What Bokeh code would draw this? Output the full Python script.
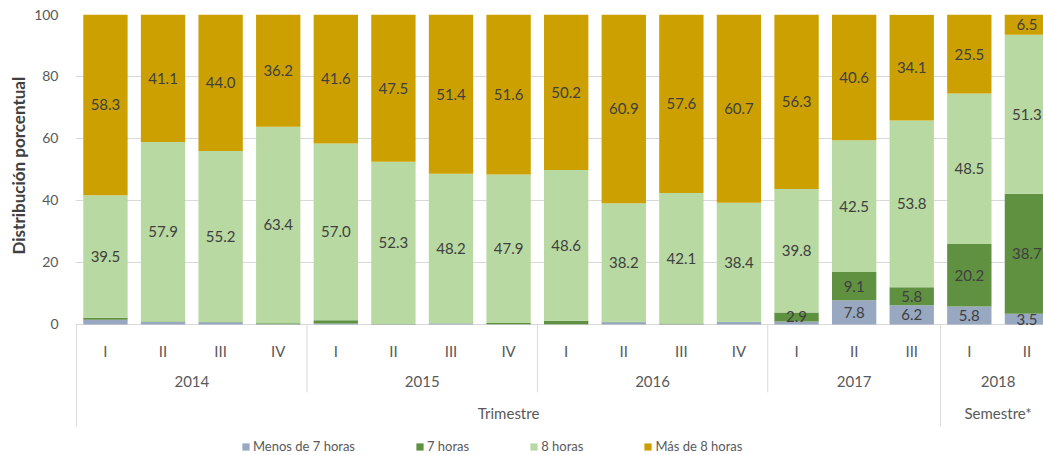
import numpy as np
from bokeh.plotting import figure
from bokeh.models import ColumnDataSource, Range1d, FixedTicker, Title
from bokeh.core.properties import value
from bokeh.embed import file_html
from bokeh.resources import INLINE

# ---------------- data ----------------
quarters = ["I", "II", "III", "IV", "I", "II", "III", "IV", "I", "II", "III", "IV",
            "I", "II", "III", "I", "II"]
years = ["2014"] * 4 + ["2015"] * 4 + ["2016"] * 4 + ["2017"] * 3 + ["2018"] * 2
periods = ["Trimestre"] * 15 + ["Semestre*"] * 2

series_names = ["Menos de 7 horas", "7 horas", "8 horas", "Más de 8 horas"]
menos7 = [1.5, 0.8, 0.7, 0.1, 0.3, 0.1, 0.3, 0.1, 0.1, 0.7, 0.1, 0.8, 1.0, 7.8, 6.2, 5.8, 3.5]
h7 = [0.7, 0.2, 0.1, 0.3, 1.1, 0.1, 0.1, 0.4, 1.1, 0.2, 0.2, 0.1, 2.9, 9.1, 5.8, 20.2, 38.7]
h8 = [39.5, 57.9, 55.2, 63.4, 57.0, 52.3, 48.2, 47.9, 48.6, 38.2, 42.1, 38.4, 39.8, 42.5, 53.8, 48.5, 51.3]
mas8 = [58.3, 41.1, 44.0, 36.2, 41.6, 47.5, 51.4, 51.6, 50.2, 60.9, 57.6, 60.7, 56.3, 40.6, 34.1, 25.5, 6.5]
y_ticks = [0, 20, 40, 60, 80, 100]
y_title = "Distribución porcentual"

colors = ["#97A8C0", "#5F9141", "#B8D9A2", "#CCA000"]
FONT = "Lato"
TXT = "#404040"
AX = "#595959"
GRID = "#D9D9D9"

n = len(quarters)
xs = list(range(n))
keys = ["menos7", "h7", "h8", "mas8"]
series = [menos7, h7, h8, mas8]
src = ColumnDataSource(dict(x=xs, menos7=menos7, h7=h7, h8=h8, mas8=mas8))

p = figure(width=1043, height=455,
           x_range=Range1d(-0.52, 16.288), y_range=Range1d(-42.26, 100),
           output_backend="svg", toolbar_location=None, x_axis_location=None,
           min_border_left=75, min_border_right=0, min_border_top=14, min_border_bottom=0)
p.outline_line_color = None
p.xgrid.visible = False
p.ygrid.ticker = FixedTicker(ticks=y_ticks)
p.ygrid.grid_line_color = GRID

p.vbar_stack(keys, x="x", width=0.77, fill_color=colors, line_color=None,
             source=src, legend_label=series_names)

# data labels
lx, ly, lt = [], [], []
bottom = np.zeros(n)
for vals in series:
    for i, v in enumerate(vals):
        if v >= 2.5:
            lx.append(i)
            ly.append(bottom[i] + v / 2)
            lt.append(f"{v:.1f}")
    bottom += np.array(vals)
p.text(x=lx, y=ly, text=lt, text_align="center", text_baseline="middle",
       text_font=value(FONT), text_font_size="15px", text_color=TXT)

# category axis (multi-level)
p.text(x=xs, y=[-8.4] * n, text=quarters, text_align="center", text_baseline="middle",
       text_font=value(FONT), text_font_size="15px", text_color=AX)

def groups(labels):
    out = []
    start = 0
    for i in range(1, n + 1):
        if i == n or labels[i] != labels[start]:
            out.append((labels[start], start, i - 1))
            start = i
    return out

yg = groups(years)
p.text(x=[(a + b) / 2 for _, a, b in yg], y=[-18.4] * len(yg), text=[g for g, _, _ in yg],
       text_align="center", text_baseline="middle",
       text_font=value(FONT), text_font_size="15px", text_color=AX)
pg = groups(periods)
p.text(x=[(a + b) / 2 for _, a, b in pg], y=[-28.7] * len(pg), text=[g for g, _, _ in pg],
       text_align="center", text_baseline="middle",
       text_font=value(FONT), text_font_size="15px", text_color=AX)

# separators
sx, sy1 = [-0.5], [-32.9]
for i in range(1, n):
    if periods[i] != periods[i - 1]:
        sx.append(i - 0.5); sy1.append(-32.9)
    elif years[i] != years[i - 1]:
        sx.append(i - 0.5); sy1.append(-21.9)
p.segment(x0=sx, y0=[0] * len(sx), x1=sx, y1=sy1, line_color=GRID, line_width=1)

# y axis
ya = p.yaxis[0]
ya.ticker = FixedTicker(ticks=y_ticks)
ya.axis_line_color = None
ya.major_tick_line_color = None
ya.minor_tick_line_color = None
ya.major_label_standoff = 11
ya.major_label_text_font = FONT
ya.major_label_text_font_size = "14px"
ya.major_label_text_color = AX

p.add_layout(Title(text=y_title, align="left", offset=201, standoff=6,
                   text_font=FONT, text_font_size="17px", text_font_style="bold",
                   text_color=TXT), "left")

lg = p.legend[0]
lg.orientation = "horizontal"
lg.location = (166, 1)
lg.spacing = 60
lg.padding = 0
lg.margin = 0
lg.glyph_width = 9
lg.glyph_height = 9
lg.label_standoff = 3
lg.label_height = 14
lg.label_text_font = FONT
lg.label_text_font_size = "13px"
lg.label_text_color = AX
lg.border_line_color = None
lg.background_fill_alpha = 0

open("out.html", "w").write(file_html(p, INLINE))
